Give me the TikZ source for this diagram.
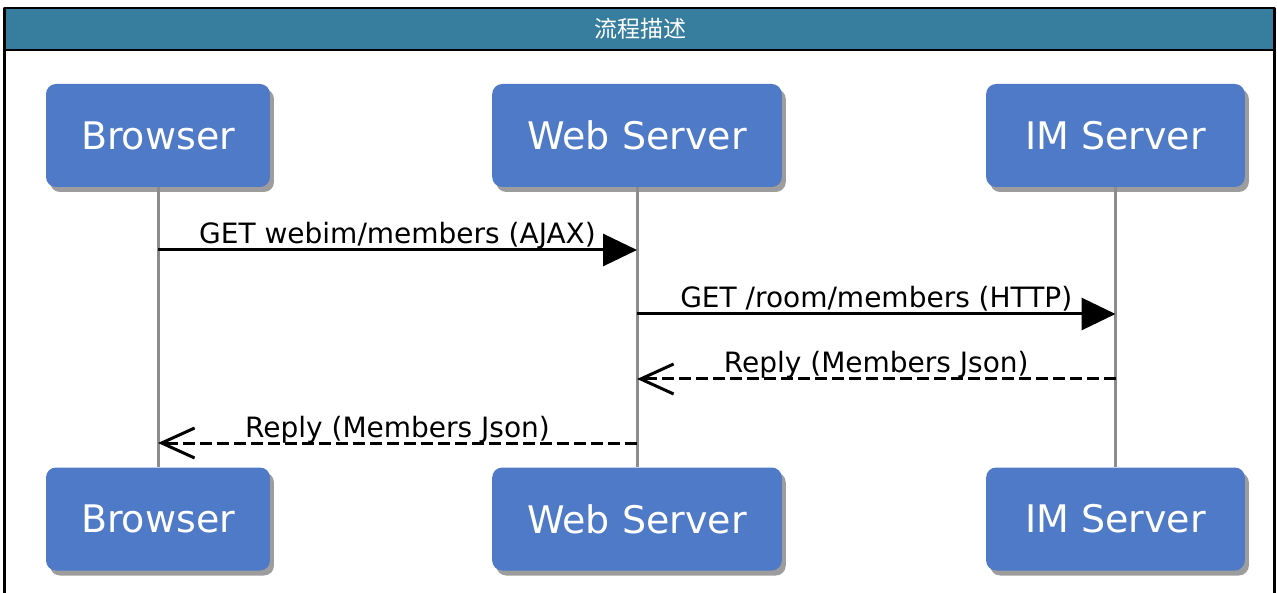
\documentclass[tikz,border=0pt]{standalone}
\usepackage{fontspec}
\setmainfont{DejaVu Sans}
\newfontfamily\cjkfont{Noto Sans CJK SC}
\usetikzlibrary{arrows.meta,shadows}
\definecolor{headblue}{HTML}{367D9E}
\definecolor{boxblue}{HTML}{4F7AC7}
\definecolor{lifegray}{HTML}{8C8C8C}
\tikzset{
 actor/.style={fill=boxblue,rounded corners=10pt,minimum height=103pt,inner xsep=35pt,text=white,font=\fontsize{38}{42}\selectfont,drop shadow={shadow xshift=4pt,shadow yshift=-5pt,opacity=0.55,fill=black!70}},
 lifeline/.style={draw=lifegray,line width=3pt},
 call/.style={line width=3pt,-{Triangle[length=34pt,width=32pt]}},
 reply/.style={line width=3pt,dash pattern=on 12pt off 5pt,-{Straight Barb[length=33pt,width=30pt,line width=3pt]}},
 msg/.style={font=\fontsize{28}{32}\selectfont,anchor=base,yshift=6pt,inner sep=0pt}
}
\begin{document}
\begin{tikzpicture}[x=1pt,y=-1pt,line join=round]
 \def\ya{250}\def\yb{314}\def\yc{379}\def\yd{443}
 \useasboundingbox (0,0) rectangle (1277,593);
 \fill[headblue] (5,8) rectangle (1274,50);
 \node[text=white,font=\cjkfont\fontsize{23}{26}\selectfont] (title) at (640,29) {流程描述};
 \draw[line width=2.5pt] (4.5,600)--(4.5,8)--(1274.5,8)--(1274.5,600);
 \draw[line width=2pt] (4.5,50.5)--(1274.5,50.5);
 \node[actor] (brT) at (158,135.5) {Browser};
 \node[actor] (wsT) at (637,135.5) {Web Server};
 \node[actor,inner xsep=39pt] (imT) at (1115.5,135.5) {IM Server};
 \node[actor] (brB) at (158,519) {Browser};
 \node[actor] (wsB) at (637,519) {Web Server};
 \node[actor,inner xsep=39pt] (imB) at (1115.5,519) {IM Server};
 \draw[lifeline] (brT.south)--(brB.north);
 \draw[lifeline] (wsT.south)--(wsB.north);
 \draw[lifeline] (imT.south)--(imB.north);
 \coordinate (br1) at (brT.south |- 0,\ya);
 \coordinate (ws1) at (wsT.south |- 0,\ya);
 \coordinate (ws2) at (wsT.south |- 0,\yb);
 \coordinate (im2) at (imT.south |- 0,\yb);
 \coordinate (im3) at (imT.south |- 0,\yc);
 \coordinate (ws3) at (wsT.south |- 0,\yc);
 \coordinate (ws4) at (wsT.south |- 0,\yd);
 \coordinate (br4) at (brT.south |- 0,\yd);
 \draw[call] (br1)--(ws1) node[msg,pos=0.5] (m1) {GET webim/members (AJAX)};
 \draw[call] (ws2)--(im2) node[msg,pos=0.5] (m2) {GET /room/members (HTTP)};
 \draw[reply] (im3)--(ws3) node[msg,pos=0.5] (m3) {Reply (Members Json)};
 \draw[reply] (ws4)--(br4) node[msg,pos=0.5] (m4) {Reply (Members Json)};
\end{tikzpicture}
\end{document}
